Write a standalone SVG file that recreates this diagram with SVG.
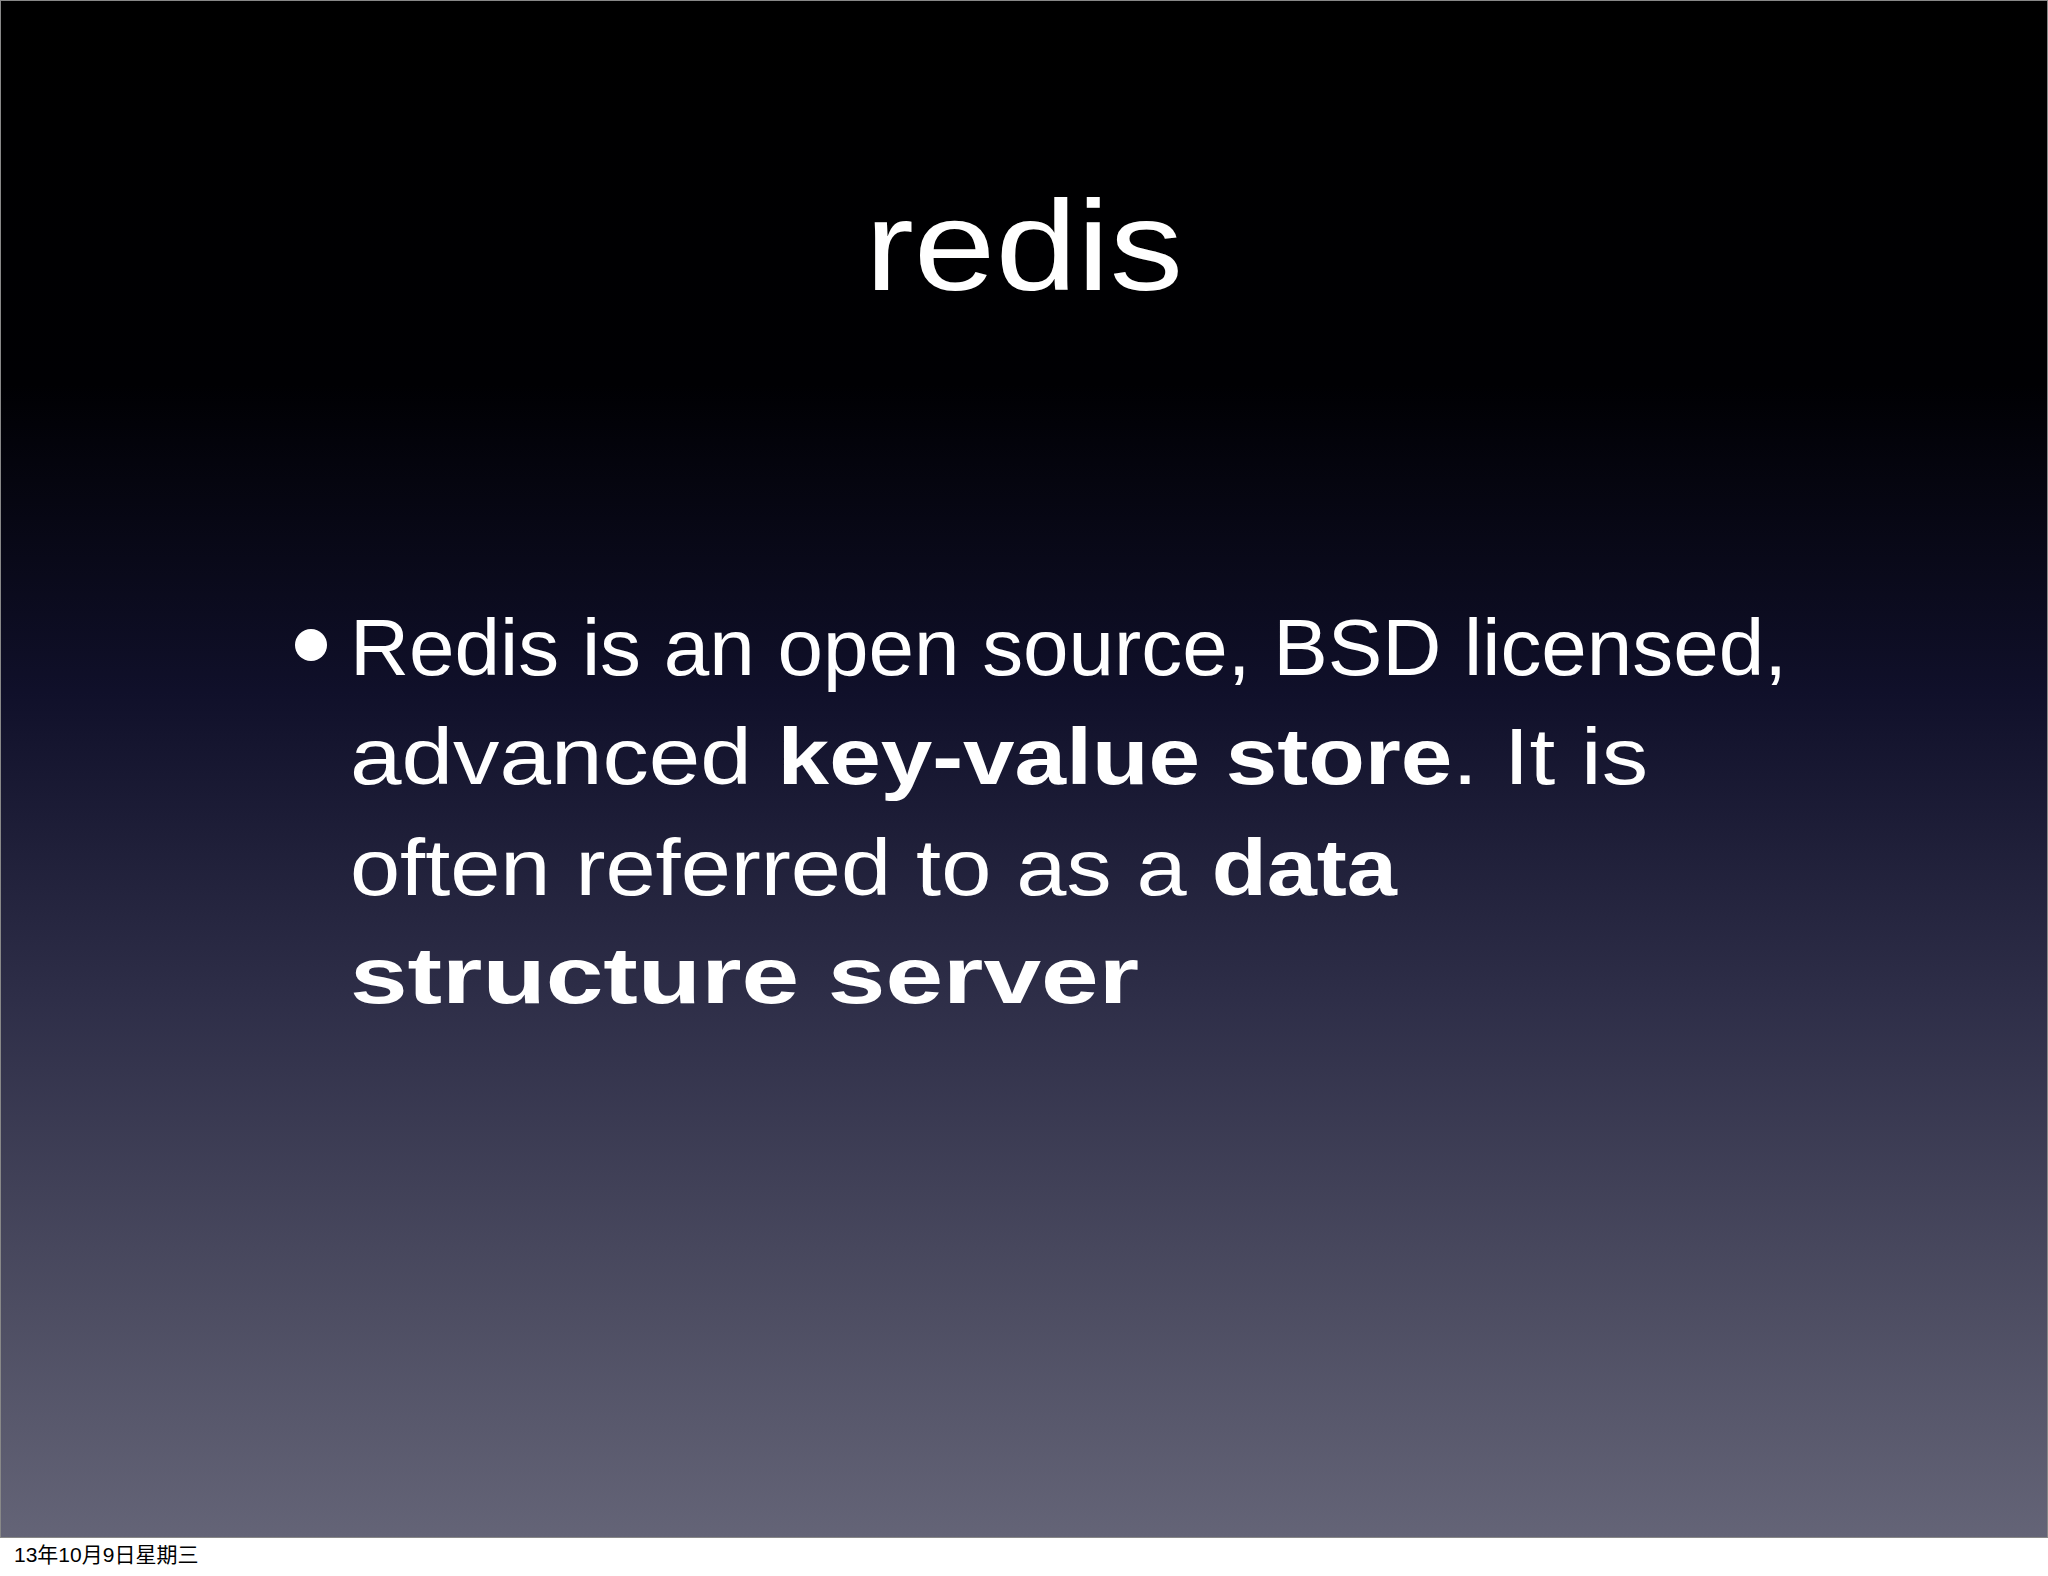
<svg xmlns="http://www.w3.org/2000/svg" width="2048" height="1576" viewBox="0 0 2048 1576">
<defs>
<linearGradient id="bg" x1="0" y1="0" x2="0" y2="1">
<stop offset="0" stop-color="#000000"/>
<stop offset="0.25" stop-color="#000003"/>
<stop offset="0.45" stop-color="#10102a"/>
<stop offset="0.65" stop-color="#2e2e48"/>
<stop offset="0.85" stop-color="#4d4d62"/>
<stop offset="1" stop-color="#646477"/>
</linearGradient>
<style>
.t{font-family:"Liberation Sans",Arial,sans-serif;fill:#fff;font-size:80px}
.h{font-size:128px}
.b{font-weight:bold}
</style>
</defs>
<rect width="2048" height="1576" fill="#fff"/>
<rect x="0.5" y="0.5" width="2047" height="1537" fill="url(#bg)" stroke="#888"/>
<g id="title"><text x="865" y="290" class="t h" textLength="318" lengthAdjust="spacingAndGlyphs">redis</text></g>
<g id="body">
<circle cx="311" cy="645" r="16" fill="#fff"/>
<text class="t" x="350" y="675" textLength="1437" lengthAdjust="spacingAndGlyphs">Redis is an open source, BSD licensed,</text>
<text class="t" x="350" y="784" textLength="1298" lengthAdjust="spacingAndGlyphs">advanced <tspan class="b">key-value store</tspan>. It is</text>
<text class="t" x="350" y="895" textLength="1047" lengthAdjust="spacingAndGlyphs">often referred to as a <tspan class="b">data</tspan></text>
<text class="t b" x="350" y="1003" textLength="789" lengthAdjust="spacingAndGlyphs">structure server</text>
</g>
<g id="footer"><text x="14" y="1562" font-family="'Liberation Sans','Noto Sans CJK SC',sans-serif" font-size="21" fill="#000">13年10月9日星期三</text></g>
</svg>
